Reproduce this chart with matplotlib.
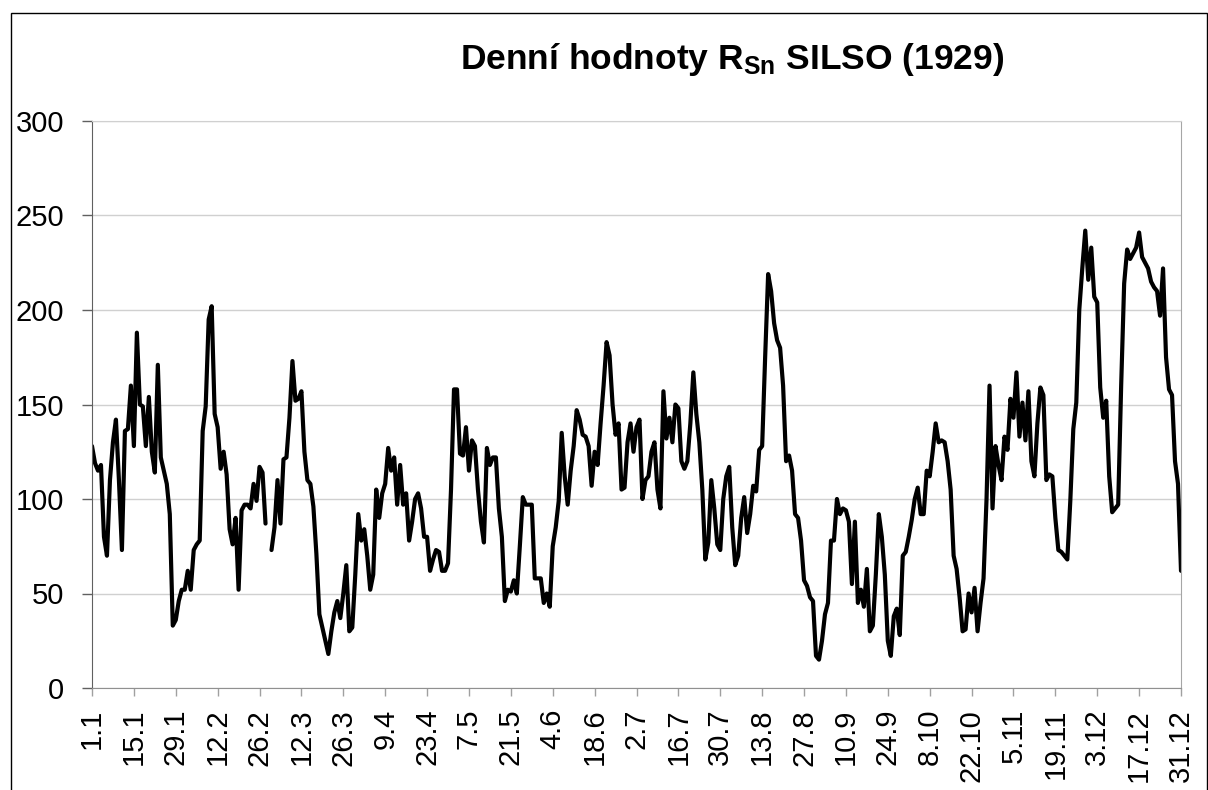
import matplotlib
matplotlib.use('Agg')
import matplotlib.pyplot as plt
from matplotlib.patches import Rectangle
import numpy as np

plt.rcParams['font.family'] = ['Liberation Sans', 'DejaVu Sans']
plt.rcParams['mathtext.fontset'] = 'custom'
plt.rcParams['mathtext.bf'] = 'Liberation Sans:bold'
plt.rcParams['mathtext.rm'] = 'Liberation Sans'

# daily R_sn values for 1929, read month by month
jan = [128, 119, 115, 118, 80, 70, 110, 130, 142, 110, 73, 136, 137, 160, 128, 188,
       150, 149, 128, 154, 125, 114, 171, 122, 115, 108, 92, 33, 36, 46, 52]
feb = [52, 62, 52, 73, 76, 78, 136, 149, 195, 202, 145, 138, 116, 125, 113, 84,
       76, 90, 52, 94, 97, 97, 95, 108, 99, 117, 114, 87]
mar = [np.nan, 73, 85, 110, 87, 121, 122, 143, 173, 152, 153, 157, 125, 110, 108, 96,
       71, 39, 32, 25, 18, 30, 40, 46, 37, 50, 65, 30, 32, 60, 92]
apr = [78, 84, 70, 52, 60, 105, 90, 103, 108, 127, 115, 122, 97, 118, 97, 103,
       78, 88, 100, 103, 95, 80, 80, 62, 68, 73, 72, 62, 62, 66]
may = [105, 158, 158, 124, 123, 138, 115, 131, 128, 105, 88, 77, 127, 118, 122, 122,
       95, 80, 46, 52, 51, 57, 50, 75, 101, 97, 97, 97, 58, 58, 58]
jun = [45, 50, 43, 75, 85, 99, 135, 112, 97, 115, 128, 147, 142, 134, 133, 128,
       107, 125, 118, 140, 160, 183, 176, 150, 134, 140, 105, 106, 130, 140]
jul = [125, 138, 142, 100, 110, 112, 125, 130, 105, 95, 157, 132, 143, 130, 150, 148,
       120, 116, 120, 140, 167, 145, 130, 105, 68, 77, 110, 95, 76, 73, 100]
aug = [112, 117, 85, 65, 70, 90, 101, 82, 92, 107, 104, 126, 128, 175, 219, 210,
       193, 184, 180, 160, 120, 123, 115, 92, 90, 78, 57, 54, 48, 46, 17]
sep = [15, 25, 39, 45, 78, 78, 100, 92, 95, 94, 88, 55, 88, 45, 52, 43,
       63, 30, 33, 60, 92, 80, 60, 25, 17, 38, 42, 28, 70, 72]
okt = [80, 89, 100, 106, 92, 92, 115, 112, 125, 140, 130, 131, 130, 120, 105, 70,
       63, 48, 30, 31, 50, 40, 53, 30, 45, 58, 100, 160, 95, 128, 118]
nov = [110, 133, 126, 153, 143, 167, 133, 151, 131, 157, 120, 112, 140, 159, 155, 110,
       113, 112, 90, 73, 72, 70, 68, 99, 137, 151, 200, 222, 242, 216]
dec = [233, 207, 204, 159, 143, 152, 112, 93, 95, 97, 160, 214, 232, 227, 230, 233,
       241, 228, 225, 222, 215, 212, 210, 197, 222, 175, 158, 155, 120, 108, 62]

tick_labels = ['1.1', '15.1', '29.1', '12.2', '26.2', '12.3', '26.3', '9.4', '23.4',
               '7.5', '21.5', '4.6', '18.6', '2.7', '16.7', '30.7', '13.8', '27.8',
               '10.9', '24.9', '8.10', '22.10', '5.11', '19.11', '3.12', '17.12', '31.12']

values = np.array(jan + feb + mar + apr + may + jun + jul + aug + sep + okt + nov + dec, dtype=float)
days = np.arange(len(values))

fig = plt.figure(figsize=(12.08, 7.9), dpi=100)
ax = fig.add_axes([92 / 1208, 1 - 688 / 790, (1181 - 92) / 1208, (688 - 121) / 790])

ax.plot(days, values, color='black', linewidth=3.0, solid_joinstyle='round', solid_capstyle='round')

ax.set_xlim(0, len(values) - 1)
ax.set_ylim(0, 300)
ax.set_yticks(np.arange(0, 301, 50))
ax.set_xticks(np.arange(0, len(values), 14))
ax.set_xticklabels(tick_labels, rotation=90)

ax.yaxis.grid(True, color='#d0d0d0', linewidth=1)
ax.set_axisbelow(True)
ax.tick_params(axis='y', labelsize=21, length=7, width=1, color='#606060', pad=13)
ax.tick_params(axis='x', labelsize=21, length=6, width=1, color='#a0a0a0', pad=9)

ax.spines['left'].set_color('#606060')
ax.spines['bottom'].set_color('#909090')
ax.spines['top'].set_color('#d0d0d0')
ax.spines['right'].set_color('#a6a6a6')

# title with subscript
fig.text(732 / 1208, 1 - 60 / 790, r'Denní hodnoty $\mathbf{R_{Sn}}$ SILSO (1929)',
         ha='center', va='center', fontsize=25.5, fontweight='bold')

# outer chart border (cut at the bottom in the original)
fig.patches.append(Rectangle((10.5 / 1208, -0.05), (1206.5 - 10.5) / 1208, 1.05 - 12.5 / 790,
                             transform=fig.transFigure, fill=False, edgecolor='black', linewidth=1))

fig.savefig('out.png', dpi=100)
